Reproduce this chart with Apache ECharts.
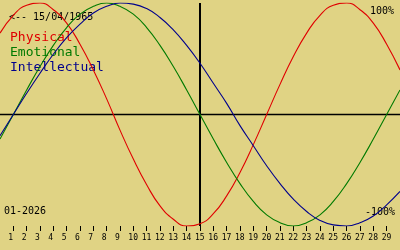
<!DOCTYPE html>
<html><head><meta charset="utf-8">
<script src="https://cdn.jsdelivr.net/npm/echarts@6/dist/echarts.min.js"></script>
<style>html,body{margin:0;padding:0;background:#e0d384;}#c{width:400px;height:250px;}</style>
</head><body><div id="c"></div>
<script>
// Days of the month shown on the x axis (0 .. 30)
const days = [0,1,2,3,4,5,6,7,8,9,10,11,12,13,14,15,16,17,18,19,20,21,22,23,24,25,26,27,28,29,30];
// Cycle values (-1 .. 1)
const physical = [0.73,0.89,0.98,1.00,0.94,0.82,0.63,0.40,0.14,-0.14,-0.40,-0.63,-0.82,-0.94,-1.00,-0.98,-0.89,-0.73,-0.52,-0.27,0.00,0.27,0.52,0.73,0.89,0.98,1.00,0.94,0.82,0.63,0.40];
const emotional = [-0.22,0.00,0.22,0.43,0.62,0.78,0.90,0.97,1.00,0.97,0.90,0.78,0.62,0.43,0.22,0.00,-0.22,-0.43,-0.62,-0.78,-0.90,-0.97,-1.00,-0.97,-0.90,-0.78,-0.62,-0.43,-0.22,0.00,0.22];
const intellectual = [-0.19,0.00,0.19,0.37,0.54,0.69,0.81,0.91,0.97,1.00,0.99,0.95,0.87,0.76,0.62,0.46,0.28,0.10,-0.10,-0.28,-0.46,-0.62,-0.76,-0.87,-0.95,-0.99,-1.00,-0.97,-0.91,-0.81,-0.69];
// Tick labels
const dayTicks = [1,2,3,4,5,6,7,8,9,10,11,12,13,14,15,16,17,18,19,20,21,22,23,24,25,26,27,28,29];
const seriesNames = ['Physical','Emotional','Intellectual'];
const birthLabel = '<-- 15/04/1965';
const monthLabel = '01-2026';
const topLabel = '100%';
const bottomLabel = '-100%';
const todayDay = 15;

const colors = ['#e00000','#007a00','#00008c'];
const mono = 'DejaVu Sans Mono';
const pxPerDay = 400 / 30;
const labelShift = 5 / pxPerDay;

const chart = echarts.init(document.getElementById('c'), null, {renderer:'canvas'});
const mk = arr => days.map((d,i)=>[d,arr[i]]);
const lineSeries = [physical, emotional, intellectual].map((arr,i)=>({
  type:'line', name:seriesNames[i], data:mk(arr), smooth:0.5, showSymbol:false,
  lineStyle:{color:colors[i], width:1.1}, itemStyle:{color:colors[i]}, z:3, silent:true,
  xAxisIndex:0
}));
lineSeries[0].markLine = {
  silent:true, symbol:'none', label:{show:false}, z:1,
  data:[
    {yAxis:0, lineStyle:{color:'#000', width:1.3, type:'solid'}},
    {xAxis:todayDay, lineStyle:{color:'#000', width:2, type:'solid'}}
  ]
};

chart.setOption({
  backgroundColor:'#e0d384',
  animation:false,
  grid:{left:0, right:0, top:3, height:223},
  xAxis:[{
    type:'value', min:0, max:30, position:'bottom',
    axisLine:{show:false, onZero:false}, splitLine:{show:false},
    axisTick:{show:true, customValues:dayTicks, length:5, inside:false, lineStyle:{color:'#000', width:1}},
    axisLabel:{show:false}
  },{
    type:'value', min:labelShift, max:30+labelShift, position:'bottom',
    axisLine:{show:false, onZero:false}, splitLine:{show:false}, axisTick:{show:false},
    axisLabel:{show:true, customValues:dayTicks, align:'left', margin:8, fontFamily:mono, fontSize:8, color:'#000'}
  }],
  yAxis:{type:'value', min:-1, max:1, show:false},
  series:lineSeries,
  graphic:[
    {type:'text', left:9, top:12, style:{text:birthLabel, font:'10px "DejaVu Sans Mono"', fill:'#000'}},
    {type:'text', left:10, top:31, style:{text:seriesNames[0], font:'13px "DejaVu Sans Mono"', fill:colors[0]}},
    {type:'text', left:10, top:46, style:{text:seriesNames[1], font:'13px "DejaVu Sans Mono"', fill:colors[1]}},
    {type:'text', left:10, top:61, style:{text:seriesNames[2], font:'13px "DejaVu Sans Mono"', fill:colors[2]}},
    {type:'text', right:6, top:6, style:{text:topLabel, font:'10px "DejaVu Sans Mono"', fill:'#000'}},
    {type:'text', right:5, top:207, style:{text:bottomLabel, font:'10px "DejaVu Sans Mono"', fill:'#000'}},
    {type:'text', left:4, top:206, style:{text:monthLabel, font:'10px "DejaVu Sans Mono"', fill:'#000'}}
  ]
});
</script></body></html>
